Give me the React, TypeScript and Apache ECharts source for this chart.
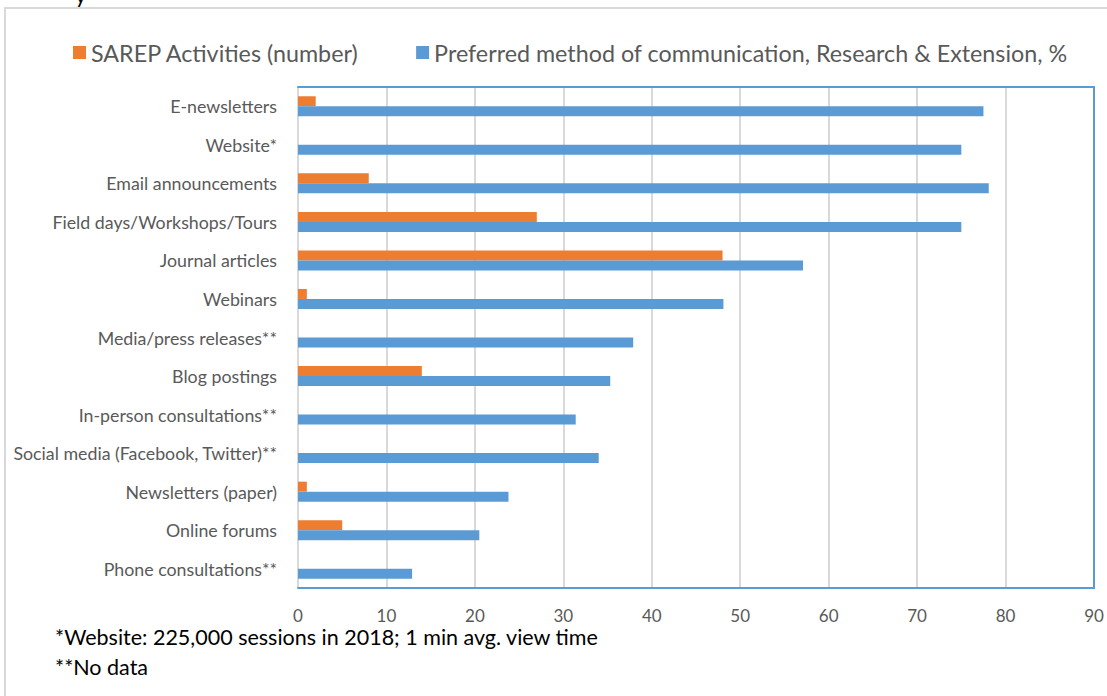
import React, { useEffect, useRef } from "react";
import * as echarts from "echarts";

const categories = [
  "E-newsletters",
  "Website*",
  "Email announcements",
  "Field days/Workshops/Tours",
  "Journal articles",
  "Webinars",
  "Media/press releases**",
  "Blog postings",
  "In-person consultations**",
  "Social media (Facebook, Twitter)**",
  "Newsletters (paper)",
  "Online forums",
  "Phone consultations**",
];

const sarepActivities = [2, null, 8, 27, 48, 1, null, 14, null, null, 1, 5, null];
const preferredMethod = [77.5, 75, 78.1, 75, 57.1, 48.1, 37.9, 35.3, 31.4, 34, 23.8, 20.5, 12.9];

const xTicks = { min: 0, max: 90, interval: 10 };

const footnote1 = "*Website: 225,000 sessions in 2018; 1 min avg. view time";
const footnote2 = "**No data";

const FONT = "Lato, 'Open Sans', sans-serif";
const ORANGE = "#ED7D31";
const BLUE = "#5B9BD5";
const GREY_TEXT = "#595959";

export default function App() {
  const ref = useRef<HTMLDivElement>(null);

  useEffect(() => {
    document.body.style.margin = "0";
    if (!ref.current) return;
    const chart = echarts.init(ref.current, undefined, { renderer: "svg" });
    chart.setOption({
      animation: false,
      backgroundColor: "#ffffff",
      textStyle: { fontFamily: FONT },
      legend: {
        top: 36,
        left: 68,
        itemWidth: 13,
        itemHeight: 13,
        itemGap: 57,
        icon: "rect",
        textStyle: { fontSize: 23.3, color: GREY_TEXT, fontFamily: FONT },
        data: ["SAREP Activities (number)", "Preferred method of communication, Research & Extension, %"],
      },
      grid: { left: 298, right: 13, top: 87, bottom: 108, containLabel: false },
      xAxis: [
        {
          type: "value",
          min: xTicks.min,
          max: xTicks.max,
          interval: xTicks.interval,
          position: "bottom",
          axisLine: { show: true, lineStyle: { color: BLUE, width: 2 } },
          axisTick: { show: false },
          axisLabel: { color: GREY_TEXT, fontSize: 17, margin: 19, fontFamily: FONT },
          splitLine: { show: true, lineStyle: { color: "#d9d9d9", width: 2 } },
        },
        {
          type: "value",
          min: xTicks.min,
          max: xTicks.max,
          interval: xTicks.interval,
          position: "top",
          axisLine: { show: true, onZero: false, lineStyle: { color: BLUE, width: 2 } },
          axisTick: { show: false },
          axisLabel: { show: false },
          splitLine: { show: false },
        },
      ],
      yAxis: [
        {
          type: "category",
          data: categories,
          inverse: true,
          axisLine: { show: false },
          axisTick: { show: false },
          axisLabel: { color: GREY_TEXT, fontSize: 17.8, margin: 21, fontFamily: FONT },
        },
        {
          type: "category",
          data: categories,
          inverse: true,
          position: "right",
          axisLine: { show: true, onZero: false, lineStyle: { color: BLUE, width: 2 } },
          axisTick: { show: false },
          axisLabel: { show: false },
        },
      ],
      series: [
        {
          name: "SAREP Activities (number)",
          type: "bar",
          data: sarepActivities,
          barWidth: 10,
          barGap: "0%",
          itemStyle: { color: ORANGE },
        },
        {
          name: "Preferred method of communication, Research & Extension, %",
          type: "bar",
          data: preferredMethod,
          barWidth: 10,
          barGap: "0%",
          itemStyle: { color: BLUE },
        },
      ],
      graphic: [
        {
          type: "rect",
          silent: true,
          shape: { x: 5, y: 8, width: 1200, height: 800 },
          style: { fill: "none", stroke: "#d9d9d9", lineWidth: 2 },
          z: -10,
        },
        {
          type: "text",
          left: 75,
          top: -17,
          style: { text: "y", fontSize: 22, fill: "#000", fontFamily: FONT },
        },
        {
          type: "text",
          left: 55,
          top: 626,
          style: { text: footnote1, fontSize: 21.5, fill: "#000", fontFamily: FONT },
        },
        {
          type: "text",
          left: 55,
          top: 656,
          style: { text: footnote2, fontSize: 21.5, fill: "#000", fontFamily: FONT },
        },
      ],
    });
    return () => chart.dispose();
  }, []);

  return <div ref={ref} style={{ width: 1107, height: 696 }} />;
}
